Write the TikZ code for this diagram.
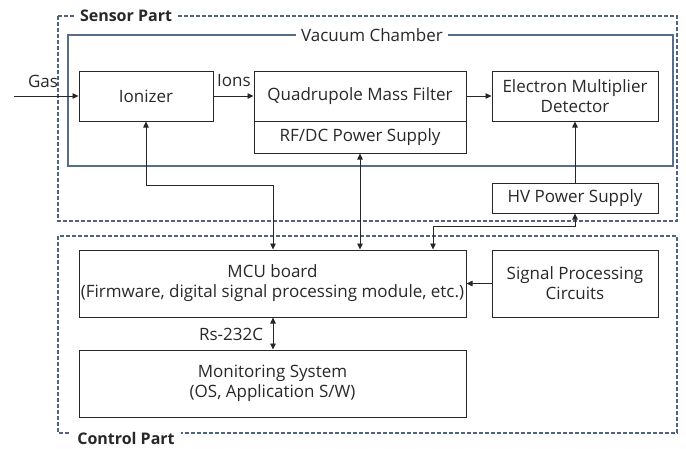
\documentclass[tikz,border=0pt]{standalone}
\usepackage{fontspec}
\setmainfont{Open Sans}
\usetikzlibrary{arrows.meta}
\definecolor{dashc}{RGB}{79,98,128}
\definecolor{vacc}{RGB}{84,110,140}
\definecolor{ink}{RGB}{40,40,40}
\tikzset{
  box/.style={draw=ink, line width=1pt, inner sep=0pt, align=center, text=ink, font=\fontsize{17}{20}\selectfont},
  arr/.style={draw=ink, line width=0.8pt, -{Triangle[length=6pt,width=5.5pt]}},
  darr/.style={draw=ink, line width=0.8pt, {Triangle[length=6pt,width=5.5pt]}-{Triangle[length=6pt,width=5.5pt]}},
  lbl/.style={text=ink, font=\fontsize{17}{20}\selectfont, inner sep=1pt},
  part/.style={draw=dashc, line width=1.2pt, dash pattern=on 4pt off 2pt},
  partlbl/.style={fill=white, text=ink, font=\fontsize{16}{19}\selectfont\bfseries, inner xsep=6pt, inner ysep=1pt},
}
\begin{document}
\begin{tikzpicture}[x=1pt,y=-1pt]
\useasboundingbox (0,0) rectangle (686,448);
% parts
\draw[part] (58,16) rectangle (677,221);
\node[partlbl] (sp) at (126,16) {Sensor Part};
\draw[part] (58,236) rectangle (677,433);
\node[partlbl] (cp) at (126,438) {Control Part};
% vacuum chamber
\draw[draw=vacc, line width=1.1pt] (68,35) rectangle (673,166);
\node[fill=white, text=ink, font=\fontsize{17}{20}\selectfont, inner xsep=5pt, inner ysep=1pt] (vc) at (372,35) {Vacuum Chamber};
% boxes
\node[box, minimum width=134pt, minimum height=50pt] (ion) at (146,96) {Ionizer};
\node[box, minimum width=212pt, minimum height=50pt] (qmf) at (360,96) {Quadrupole Mass Filter};
\node[box, minimum width=212pt, minimum height=32pt] (rf) at (360,137) {RF/DC Power Supply};
\node[box, minimum width=166pt, minimum height=50pt] (emd) at (575,96) {Electron Multiplier\\Detector};
\node[box, minimum width=166pt, minimum height=30pt] (hv) at (575,198) {HV Power Supply};
\node[box, minimum width=387pt, minimum height=67pt] (mcu) at (272.5,283.5) {MCU board\\(Firmware, digital signal processing module, etc.)};
\node[box, minimum width=166pt, minimum height=67pt] (spc) at (575,283.5) {Signal Processing\\Circuits};
\node[box, minimum width=387pt, minimum height=67pt] (mon) at (272.5,383.5) {Monitoring System\\(OS, Application S/W)};
% labels
\node[lbl] (gas) at (43,81) {Gas};
\node[lbl] (ions) at (234,81) {Ions};
\node[lbl] (rs) at (231,334) {Rs-232C};
% connectors
\coordinate (gin) at (14,96);
\draw[arr] (gin) -- (ion.west);
\draw[arr] (ion.east) -- (qmf.west);
\draw[arr] (qmf.east) -- (emd.west);
\draw[arr] (hv.north) -- (emd.south);
\draw[arr] (spc.west) -- (mcu.east);
\coordinate (j1) at (273,185);
\draw[darr] (ion.south) |- (j1) -- (j1 |- mcu.north);
\draw[darr] (rf.south) -- (rf.south |- mcu.north);
\coordinate (j2) at (433,226);
\draw[darr] (hv.south) |- (j2) -- (j2 |- mcu.north);
\coordinate (j3) at (273,300);
\draw[darr] (j3 |- mcu.south) -- (j3 |- mon.north);
\end{tikzpicture}
\end{document}
